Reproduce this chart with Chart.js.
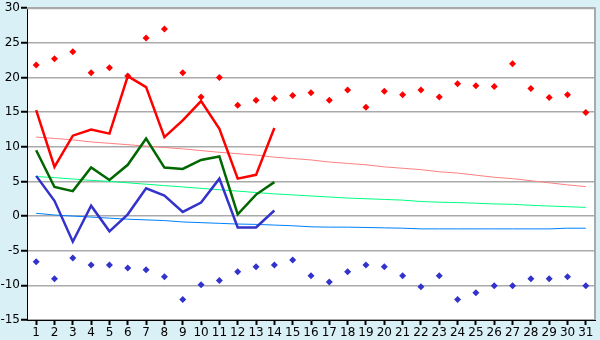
<!DOCTYPE html>
<html>
<head>
<meta charset="utf-8">
<script src="https://cdn.jsdelivr.net/npm/chart.js@4/dist/chart.umd.min.js"></script>
<style>
  html, body { margin: 0; padding: 0; background: #d9f0f7; }
  #wrap { width: 600px; height: 340px; }
</style>
</head>
<body>
<div id="wrap"><canvas id="tempChart" width="600" height="340"></canvas></div>
<script>
const days = [];
for (let d = 1; d <= 31; d++) days.push(String(d));

// this month, days 1-14
const tempMax = [15.3, 7.1, 11.6, 12.5, 11.9, 20.2, 18.6, 11.4, 13.8, 16.6, 12.6, 5.4, 5.95, 12.7];
const tempAvg = [9.5, 4.2, 3.6, 7.0, 5.2, 7.4, 11.2, 7.0, 6.8, 8.1, 8.6, 0.25, 3.1, 4.9];
const tempMin = [5.8, 2.2, -3.7, 1.5, -2.2, 0.25, 4.0, 2.95, 0.6, 1.95, 5.4, -1.65, -1.65, 0.8];

// records
const recordHigh = [21.8, 22.7, 23.7, 20.7, 21.4, 20.2, 25.7, 27.0, 20.7, 17.2, 20.0, 16.0, 16.7, 16.95, 17.4, 17.8,
  16.7, 18.2, 15.7, 18.0, 17.5, 18.2, 17.2, 19.1, 18.8, 18.7, 22.0, 18.4, 17.1, 17.5, 14.95];
const recordLow = [-6.6, -9.05, -6.05, -7.05, -7.05, -7.5, -7.75, -8.75, -12.05, -9.9, -9.3, -8.05, -7.3, -7.05, -6.35, -8.6,
  -9.5, -8.05, -7.05, -7.3, -8.6, -10.2, -8.6, -12.05, -11.05, -10.05, -10.05, -9.05, -9.05, -8.75, -10.05];

// normals
const normalMax = [11.4, 11.2, 11.0, 10.7, 10.5, 10.3, 10.1, 9.9, 9.7, 9.45, 9.2, 9.0, 8.8, 8.5, 8.3, 8.1,
  7.8, 7.6, 7.4, 7.1, 6.9, 6.7, 6.4, 6.2, 5.9, 5.6, 5.4, 5.1, 4.8, 4.5, 4.25];
const normalAvg = [5.7, 5.55, 5.35, 5.15, 5.0, 4.8, 4.6, 4.4, 4.2, 4.0, 3.8, 3.6, 3.4, 3.2, 3.05, 2.9,
  2.75, 2.6, 2.5, 2.4, 2.3, 2.1, 2.0, 1.95, 1.85, 1.75, 1.7, 1.55, 1.45, 1.35, 1.25];
const normalMin = [0.4, 0.15, 0.0, -0.15, -0.3, -0.45, -0.55, -0.65, -0.85, -0.95, -1.05, -1.15, -1.2, -1.3, -1.4, -1.55,
  -1.6, -1.6, -1.65, -1.7, -1.75, -1.85, -1.85, -1.85, -1.85, -1.85, -1.85, -1.85, -1.85, -1.75, -1.75];

const yTicks = { min: -15, max: 30, step: 5 };

const frame = {
  id: 'frame',
  beforeDraw(chart) {
    const c = chart.ctx, a = chart.chartArea;
    c.save();
    c.fillStyle = '#d9f0f7';
    c.fillRect(0, 0, chart.width, chart.height);
    c.fillStyle = '#ffffff';
    c.fillRect(a.left, a.top, a.right - a.left, a.bottom - a.top);
    c.restore();
  },
  afterDraw(chart) {
    const c = chart.ctx, a = chart.chartArea;
    c.save();
    c.strokeStyle = '#aaaaaa';
    c.lineWidth = 2;
    c.beginPath();
    c.moveTo(a.left, a.top);
    c.lineTo(a.right, a.top);
    c.lineTo(a.right, a.bottom);
    c.stroke();
    c.restore();
  }
};

function lineSet(data, color, width, order) {
  return { data, borderColor: color, borderWidth: width, pointRadius: 0, tension: 0, fill: false, order };
}
function dotSet(data, color, order) {
  return { data, showLine: false, pointStyle: 'rectRot', pointRadius: 3.5, pointBackgroundColor: color,
    pointBorderWidth: 0, borderColor: color, order };
}

const ctx = document.getElementById('tempChart').getContext('2d');
const chart = new Chart(ctx, {
  type: 'line',
  data: {
    labels: days,
    datasets: [
      lineSet(normalMax, '#ff8080', 1, 6),
      lineSet(normalAvg, '#00ff80', 1, 6),
      lineSet(normalMin, '#0080ff', 1, 6),
      dotSet(recordHigh, '#ff0000', 4),
      dotSet(recordLow, '#3333cc', 4),
      lineSet(tempMax, '#ff0000', 2.5, 1),
      lineSet(tempAvg, '#006600', 2.5, 1),
      lineSet(tempMin, '#3333cc', 2.5, 1)
    ]
  },
  options: {
    responsive: false,
    maintainAspectRatio: false,
    animation: false,
    layout: { padding: { top: 5, right: 5, left: 0, bottom: 0 } },
    plugins: { legend: { display: false }, tooltip: { enabled: false } },
    scales: {
      x: {
        offset: true,
        grid: { offset: false, drawOnChartArea: false, drawTicks: true, tickLength: 5, tickColor: '#000', tickWidth: 2 },
        border: { color: '#000', width: 1 },
        ticks: { color: '#000', font: { family: 'DejaVu Sans', size: 12 }, padding: 1, maxRotation: 0, autoSkip: false },
        afterFit(s) { s.height = 20; }
      },
      y: {
        min: yTicks.min,
        max: yTicks.max,
        grid: { color: '#aaaaaa', lineWidth: 1.5, tickLength: 6, tickColor: '#000', tickWidth: 2 },
        border: { color: '#000', width: 1 },
        ticks: { stepSize: yTicks.step, color: '#000', font: { family: 'DejaVu Sans', size: 12 }, padding: 1 },
        afterFit(s) { s.width = 27; }
      }
    }
  },
  plugins: [frame]
});
</script>
</body>
</html>
